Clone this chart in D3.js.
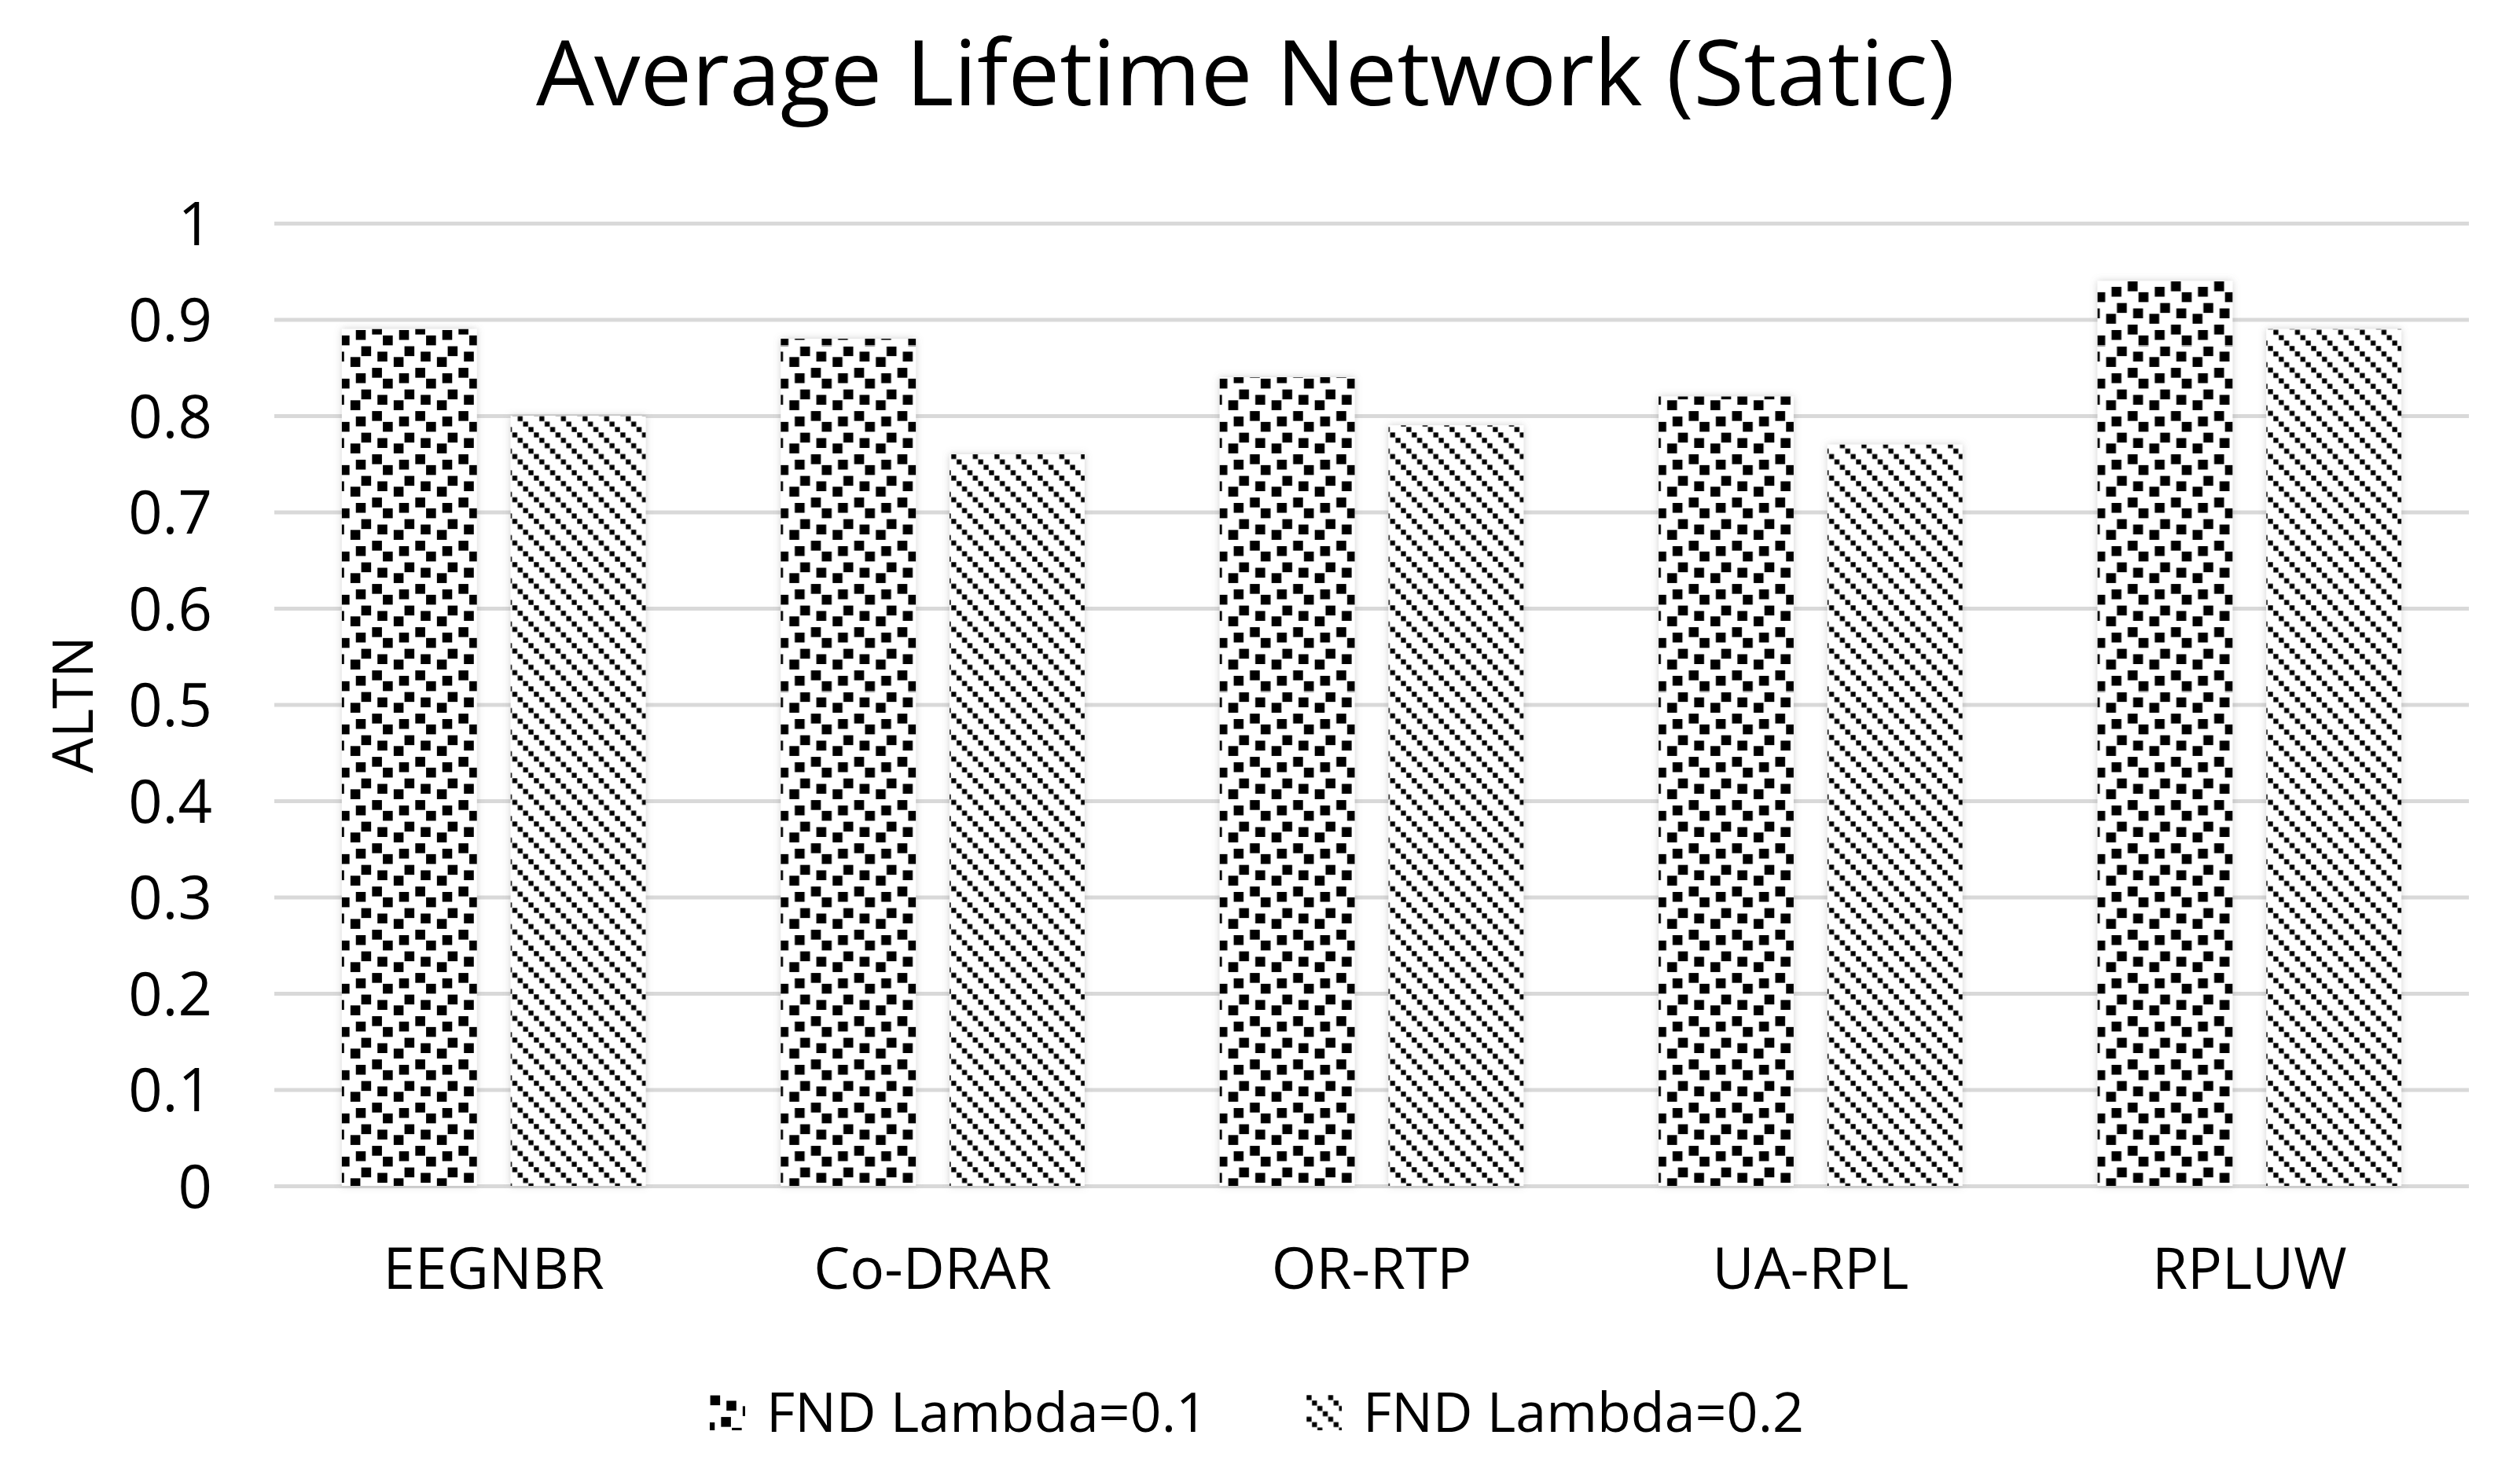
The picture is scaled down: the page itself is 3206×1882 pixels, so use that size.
<!DOCTYPE html>
<html lang="en">
<head>
  <meta charset="UTF-8">
  <title>Average Lifetime Network (Static)</title>
  <style>
    body { margin: 0; background: #fff; }
    text { font-family: "Open Sans", "Noto Sans", sans-serif; fill: #000; }
  </style>
</head>
<body>
  <svg id="svg" width="3206" height="1882"></svg>

  <script src="https://d3js.org/d3.v7.min.js"></script>
  <script>
    // data
    const categories = ['EEGNBR', 'Co-DRAR', 'OR-RTP', 'UA-RPL', 'RPLUW']
    const seriesNames = ['FND Lambda=0.1', 'FND Lambda=0.2']
    const lambda01 = [0.89, 0.88, 0.84, 0.82, 0.94]
    const lambda02 = [0.80, 0.76, 0.79, 0.77, 0.89]
    const yTicks = [0, 0.1, 0.2, 0.3, 0.4, 0.5, 0.6, 0.7, 0.8, 0.9, 1]

    const rows = categories.map((c, i) => ({ name: c, values: [lambda01[i], lambda02[i]] }))

    const margin = { top: 284, right: 65, bottom: 373, left: 349 }
    const W = 3206, H = 1882
    const plotW = W - margin.left - margin.right
    const plotH = H - margin.top - margin.bottom

    const svg = d3.select('#svg')
    svg.append('rect').attr('width', W).attr('height', H).attr('fill', '#fff')

    const defs = svg.append('defs')

    // "large confetti" style fill
    const px = 6.875
    const conf = defs.append('pattern')
      .attr('id', 'confetti')
      .attr('patternUnits', 'userSpaceOnUse')
      .attr('width', px * 8).attr('height', px * 8)
    conf.append('rect').attr('width', px * 8).attr('height', px * 8).attr('fill', '#fff')
    const blocks = [[0, 0], [3, 1], [6, 2], [2, 4], [7, 5], [4, 6]]
    blocks.forEach(([bx, by]) => {
      [0, -8].forEach(ox => [0, -8].forEach(oy => {
        conf.append('rect')
          .attr('x', (bx + ox) * px + 0.6).attr('y', (by + oy) * px + 0.6)
          .attr('width', px * 2 - 1.2).attr('height', px * 2 - 1.2)
          .attr('fill', '#000')
      }))
    })

    // light downward diagonal
    const diag = defs.append('pattern')
      .attr('id', 'diag')
      .attr('patternUnits', 'userSpaceOnUse')
      .attr('width', px * 4).attr('height', px * 4)
    diag.append('rect').attr('width', px * 4).attr('height', px * 4).attr('fill', '#fff')
    d3.range(4).forEach(k => {
      diag.append('rect')
        .attr('x', k * px + 0.3).attr('y', k * px + 0.3)
        .attr('width', px - 0.6).attr('height', px - 0.6)
        .attr('fill', '#000')
    })

    const shadow = defs.append('filter').attr('id', 'shadow')
      .attr('x', '-20%').attr('y', '-5%').attr('width', '140%').attr('height', '110%')
    shadow.append('feDropShadow')
      .attr('dx', 0).attr('dy', 0).attr('stdDeviation', 5)
      .attr('flood-color', '#777').attr('flood-opacity', 0.35)

    const fills = ['url(#confetti)', 'url(#diag)']

    // scales
    const x0 = d3.scaleBand()
      .domain(categories)
      .range([margin.left, margin.left + plotW])
      .paddingInner(0).paddingOuter(0)

    const x1 = d3.scaleBand()
      .domain(seriesNames)
      .range([0, x0.bandwidth()])
      .paddingInner(0.2).paddingOuter(0.4)

    const y = d3.scaleLinear()
      .domain([0, 1])
      .range([margin.top + plotH, margin.top])

    // gridlines
    const grid = svg.append('g')
      .attr('transform', `translate(${margin.left}, 0)`)
      .call(d3.axisLeft(y).tickValues(yTicks).tickSize(-plotW).tickFormat(''))
    grid.select('.domain').remove()
    grid.selectAll('line').attr('stroke', '#d9d9d9').attr('stroke-width', 5)

    // y axis labels
    const yAxis = svg.append('g')
      .attr('transform', `translate(${margin.left}, 0)`)
      .call(d3.axisLeft(y).tickValues(yTicks).tickSize(0).tickPadding(79)
        .tickFormat(d => (d === 0 || d === 1) ? d3.format('d')(d) : d3.format('.1f')(d)))
    yAxis.select('.domain').remove()
    yAxis.selectAll('text')
      .attr('font-family', '"Open Sans", sans-serif')
      .attr('font-size', 76)
      .attr('fill', '#000')
      .attr('dy', '0.36em')

    // bars
    const groups = svg.append('g')
      .selectAll('g')
      .data(rows)
      .enter()
      .append('g')
      .attr('transform', d => `translate(${x0(d.name)}, 0)`)

    groups.selectAll('rect')
      .data(d => d.values.map((v, i) => ({ series: seriesNames[i], value: v, i })))
      .enter()
      .append('rect')
      .attr('x', d => x1(d.series))
      .attr('y', d => y(d.value))
      .attr('width', x1.bandwidth())
      .attr('height', d => y(0) - y(d.value))
      .attr('fill', d => fills[d.i])
      .attr('filter', 'url(#shadow)')

    // x axis labels
    const xAxis = svg.append('g')
      .attr('transform', `translate(0, ${margin.top + plotH})`)
      .call(d3.axisBottom(x0).tickSize(0))
    xAxis.select('.domain').remove()
    xAxis.selectAll('text')
      .attr('font-family', '"Open Sans", sans-serif')
      .attr('font-size', 73)
      .attr('fill', '#000')
      .attr('y', 131)
      .attr('dy', 0)

    // y title
    svg.append('text')
      .attr('transform', `translate(118, ${margin.top + plotH / 2}) rotate(-90)`)
      .attr('text-anchor', 'middle')
      .attr('font-size', 71)
      .text('ALTN')

    // chart title
    svg.append('text')
      .attr('x', 682)
      .attr('y', 134)
      .attr('font-size', 116)
      .attr('textLength', 1805)
      .attr('lengthAdjust', 'spacingAndGlyphs')
      .text('Average Lifetime Network (Static)')

    // legend
    const legend = svg.append('g')
      .selectAll('g')
      .data(seriesNames)
      .enter()
      .append('g')
      .attr('transform', (d, i) => `translate(${903 + i * 759}, 1775)`)

    legend.append('rect')
      .attr('width', 45).attr('height', 45)
      .attr('fill', (d, i) => fills[i])

    legend.append('text')
      .attr('x', 72)
      .attr('y', 47)
      .attr('font-size', 70)
      .text(d => d)
      .each(function () {
        const w = 565
        if (this.getComputedTextLength() > w) {
          d3.select(this).attr('textLength', w).attr('lengthAdjust', 'spacingAndGlyphs')
        }
      })
  </script>
</body>
</html>
